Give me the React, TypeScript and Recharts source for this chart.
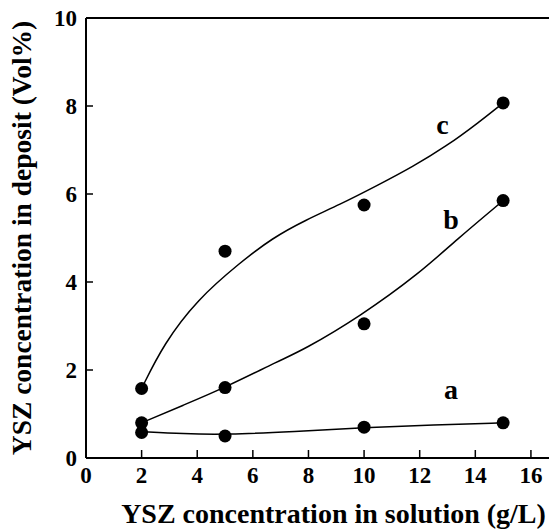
import React from "react";
import {
  ComposedChart,
  Line,
  Scatter,
  XAxis,
  YAxis,
  ReferenceLine,
} from "recharts";

// measured points
const POINTS_A = [
  { x: 2, y: 0.58 },
  { x: 5, y: 0.5 },
  { x: 10, y: 0.7 },
  { x: 15, y: 0.8 },
];
const POINTS_B = [
  { x: 2, y: 0.8 },
  { x: 5, y: 1.6 },
  { x: 10, y: 3.05 },
  { x: 15, y: 5.85 },
];
const POINTS_C = [
  { x: 2, y: 1.58 },
  { x: 5, y: 4.7 },
  { x: 10, y: 5.75 },
  { x: 15, y: 8.07 },
];

// fitted curves
const CURVE_A = [
  { x: 2, y: 0.6 },
  { x: 3.5, y: 0.55 },
  { x: 5, y: 0.53 },
  { x: 7.5, y: 0.6 },
  { x: 10, y: 0.69 },
  { x: 12.5, y: 0.75 },
  { x: 15, y: 0.8 },
];
const CURVE_B = [
  { x: 2, y: 0.8 },
  { x: 3.5, y: 1.2 },
  { x: 5, y: 1.6 },
  { x: 7, y: 2.23 },
  { x: 7.8, y: 2.45 },
  { x: 9.84, y: 3.21 },
  { x: 12, y: 4.2 },
  { x: 13.3, y: 4.95 },
  { x: 15, y: 5.85 },
];
const CURVE_C = [
  { x: 2, y: 1.58 },
  { x: 2.8, y: 2.6 },
  { x: 4, y: 3.6 },
  { x: 5.5, y: 4.42 },
  { x: 6.7, y: 5.0 },
  { x: 7.9, y: 5.41 },
  { x: 9.1, y: 5.75 },
  { x: 10.5, y: 6.2 },
  { x: 11.75, y: 6.62 },
  { x: 12.95, y: 7.08 },
  { x: 14.15, y: 7.64 },
  { x: 15, y: 8.07 },
];

const CURVE_LABELS = [
  { x: 12.82, y: 7.57, text: "c" },
  { x: 13.13, y: 5.41, text: "b" },
  { x: 13.13, y: 1.55, text: "a" },
];

const X_TICKS = [0, 2, 4, 6, 8, 10, 12, 14, 16];
const Y_TICKS = [0, 2, 4, 6, 8, 10];

const TXT = {
  fontFamily: "Liberation Serif, serif",
  fontWeight: 700,
};

const XTick = (props: any) => {
  const { x, y, payload } = props;
  return (
    <g>
      <line x1={x} y1={y} x2={x} y2={y - 8} stroke="#000" strokeWidth={1.5} />
      <text x={x} y={y + 25} textAnchor="middle" style={{ ...TXT, fontSize: 23 }} fill="#000">
        {payload.value}
      </text>
    </g>
  );
};

const YTick = (props: any) => {
  const { x, y, payload } = props;
  return (
    <g>
      <line x1={x} y1={y} x2={x + 7} y2={y} stroke="#000" strokeWidth={1.5} />
      <text x={x - 9} y={y + 8} textAnchor="end" style={{ ...TXT, fontSize: 23 }} fill="#000">
        {payload.value}
      </text>
    </g>
  );
};

const dot = (props: any) => (
  <circle cx={props.cx} cy={props.cy} r={6.5} fill="#000" />
);

const curveLabel = (props: any) => (
  <text
    x={props.cx}
    y={props.cy + 9}
    textAnchor="middle"
    style={{ ...TXT, fontSize: 28 }}
    fill="#000"
  >
    {props.payload.text}
  </text>
);

export default function App() {
  return (
    <div style={{ position: "absolute", left: 0, top: 0, background: "#fff" }}>
      <ComposedChart
        width={549}
        height={529}
        margin={{ top: 18, right: 0, bottom: 0, left: 0 }}
      >
        <XAxis
          type="number"
          dataKey="x"
          domain={[0, 16.65]}
          ticks={X_TICKS}
          allowDataOverflow
          height={71}
          axisLine={{ stroke: "#000", strokeWidth: 2 }}
          tickLine={false}
          tickSize={0}
          tickMargin={0}
          tick={<XTick />}
          label={{
            content: (p: any) => {
              const vb = p.viewBox;
              return (
                <text
                  x={vb.x + vb.width / 2 + 16}
                  y={vb.y + 65}
                  textAnchor="middle"
                  style={{ ...TXT, fontSize: 28 }}
                  fill="#000"
                >
                  YSZ concentration in solution (g/L)
                </text>
              );
            },
          }}
        />
        <YAxis
          type="number"
          dataKey="y"
          domain={[0, 10]}
          ticks={Y_TICKS}
          width={86}
          axisLine={{ stroke: "#000", strokeWidth: 2 }}
          tickLine={false}
          tickSize={0}
          tickMargin={0}
          tick={<YTick />}
          label={{
            content: (p: any) => {
              const vb = p.viewBox;
              const cx = 31;
              const cy = vb.y + vb.height / 2;
              return (
                <text
                  x={cx}
                  y={cy}
                  transform={`rotate(-90 ${cx} ${cy})`}
                  textAnchor="middle"
                  style={{ ...TXT, fontSize: 27.5 }}
                  fill="#000"
                >
                  YSZ concentration in deposit (Vol%)
                </text>
              );
            },
          }}
        />
        <ReferenceLine y={10} stroke="#000" strokeWidth={2} />
        <Line data={CURVE_A} dataKey="y" type="basis" stroke="#000" strokeWidth={1.5} dot={false} isAnimationActive={false} />
        <Line data={CURVE_B} dataKey="y" type="basis" stroke="#000" strokeWidth={1.5} dot={false} isAnimationActive={false} />
        <Line data={CURVE_C} dataKey="y" type="basis" stroke="#000" strokeWidth={1.5} dot={false} isAnimationActive={false} />
        <Scatter data={POINTS_A} dataKey="y" shape={dot} isAnimationActive={false} />
        <Scatter data={POINTS_B} dataKey="y" shape={dot} isAnimationActive={false} />
        <Scatter data={POINTS_C} dataKey="y" shape={dot} isAnimationActive={false} />
        <Scatter data={CURVE_LABELS} dataKey="y" shape={curveLabel} isAnimationActive={false} />
      </ComposedChart>
    </div>
  );
}
